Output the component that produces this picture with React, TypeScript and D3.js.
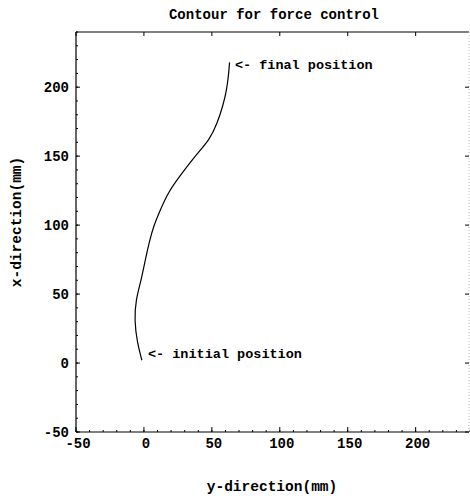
import React from 'react';
import * as d3 from 'd3';

// path of the tool tip
const yDir = [-1.5, -5, -7, -6, -2, 1, 4, 7, 12, 18, 26, 37.5, 48.5, 54, 58, 61, 62.5, 63];
const xDir = [2, 15, 31, 46, 60, 75, 88, 99, 111, 124, 135, 150, 162, 174, 186, 198, 211, 218];

const ticks = [-50, 0, 50, 100, 150, 200];
const minorTicks = d3.range(-50, 241, 10);

const notes = ['<- final position', '<- initial position'];
const noteY = [65.5, 1.5];
const noteX = [216.5, 7];

const FONT = '"Liberation Mono", "DejaVu Sans Mono", monospace';

export default function App() {
  const width = 470;
  const height = 496;
  const margin = { top: 32, right: 0, bottom: 64, left: 76 };

  const x = d3.scaleLinear().domain([-50, 240]).range([margin.left, width - margin.right]);
  const y = d3.scaleLinear().domain([-50, 240]).range([height - margin.bottom, margin.top]);

  const pts: [number, number][] = yDir.map((v, i) => [v, xDir[i]]);
  const line = d3.line<[number, number]>()
    .x(d => x(d[0]))
    .y(d => y(d[1]))
    .curve(d3.curveBasis);

  const x0 = x(-50), x1 = x(240) - 1, y0 = y(-50), y1 = y(240);

  return (
    <svg width={width} height={height} style={{ position: 'absolute', left: 0, top: 0, background: '#fff' }}
         fontFamily={FONT} fontWeight="bold">
      <text x={274} y={19} textAnchor="middle" fontSize={14}>Contour for force control</text>

      {/* frame */}
      <line x1={x0} x2={x0} y1={y1} y2={y0} stroke="#000" strokeWidth={1.2} />
      <line x1={x0} x2={x1} y1={y0} y2={y0} stroke="#000" strokeWidth={1.2} />
      <line x1={x0} x2={x1} y1={y1} y2={y1} stroke="#000" strokeWidth={1.2} />
      <line x1={x1} x2={x1} y1={y1} y2={y0} stroke="#bbb" strokeWidth={1} strokeDasharray="1,2" />

      {/* minor ticks */}
      {minorTicks.map(t => (
        <g key={'m' + t}>
          <line x1={x0} x2={x0 + 2} y1={y(t)} y2={y(t)} stroke="#000" />
          <line x1={x(t)} x2={x(t)} y1={y0} y2={y0 - 2} stroke="#000" />
        </g>
      ))}

      {/* major ticks + labels */}
      {ticks.map(t => (
        <g key={t}>
          <line x1={x0} x2={x0 + 4} y1={y(t)} y2={y(t)} stroke="#000" />
          <line x1={x1} x2={x1 - 4} y1={y(t)} y2={y(t)} stroke="#000" />
          <line x1={x(t)} x2={x(t)} y1={y0} y2={y0 - 5} stroke="#000" />
          <line x1={x(t)} x2={x(t)} y1={y1} y2={y1 + 4} stroke="#000" />
          <text x={x0 - 7} y={y(t)} dy="0.35em" textAnchor="end" fontSize={14}>{t}</text>
          <text x={x(t) + 2} y={y0 + 16} textAnchor="middle" fontSize={14}>{t}</text>
        </g>
      ))}

      <text x={272} y={491} textAnchor="middle" fontSize={14.5}>y-direction(mm)</text>
      <text transform={`translate(21,222) rotate(-90)`} textAnchor="middle" fontSize={14.5}>x-direction(mm)</text>

      <path d={line(pts) || ''} fill="none" stroke="#000" strokeWidth={1.2} />

      {notes.map((n, i) => (
        <text key={n} x={x(noteY[i]) + 2} y={y(noteX[i])} dy="0.35em" fontSize={13.5}>{n}</text>
      ))}
    </svg>
  );
}
